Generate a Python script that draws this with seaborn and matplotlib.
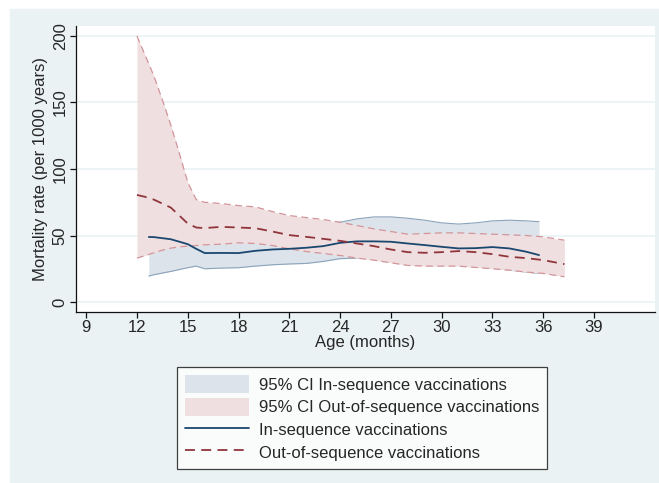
import numpy as np
import pandas as pd
import seaborn as sns
import matplotlib.pyplot as plt
from matplotlib.patches import Patch, Rectangle
from matplotlib.lines import Line2D

# In-sequence vaccinations (age in months, rate per 1000 years)
in_age = [12.7, 13, 14, 15, 15.5, 16, 17, 18, 19, 20, 21, 22, 23, 24, 25, 26,
          27, 28, 29, 30, 31, 32, 33, 34, 35, 35.75]
in_rate = [48.9, 48.8, 47.2, 43.5, 40, 36.8, 36.9, 36.8, 38.5, 39.5, 40, 40.8,
           42, 44.5, 45.6, 45.6, 45.3, 44, 42.8, 41.5, 40.3, 40.5, 41.3, 40.3,
           37.8, 35.3]
in_upper = [66, 65, 63, 61, 60, 58, 57.5, 57, 57, 57, 57, 57.5, 58.5, 60, 62.5,
            64, 64, 63, 61.5, 59.5, 58.6, 59.5, 61, 61.5, 61, 60.4]
in_lower = [19.5, 20.5, 23, 25.8, 27, 25, 25.5, 25.8, 27, 28, 28.6, 29, 30.5,
            32.6, 33, 32.5, 31.5, 30, 29, 28.5, 28, 27, 25.5, 24, 22.5, 21.5]

# Out-of-sequence vaccinations
out_age = [12, 12.5, 13, 13.5, 14, 14.5, 15, 15.5, 16, 17, 18, 19, 20, 21, 22,
           23, 24, 25, 26, 27, 28, 29, 30, 31, 32, 33, 34, 35, 36, 37.25]
out_rate = [80.5, 79, 77, 74, 71, 65, 59, 56, 55.6, 56.5, 56, 55.5, 53, 50.3,
            49, 47.5, 46, 44, 42, 39.5, 37.5, 37, 37.5, 38.3, 37.5, 36, 34, 33,
            31.5, 28.5]
out_upper = [200, 185, 170, 152, 133, 112, 90, 77, 75, 74, 72.5, 71.5, 68, 65,
             63.5, 62, 60, 57.5, 55, 53, 51, 51.5, 52, 52, 51.5, 51, 50.5, 50,
             49, 46.5]
out_lower = [33, 35, 37, 39, 40.5, 41.5, 42, 42.5, 43, 43.5, 44.5, 44, 42.5, 40,
             38, 36.5, 35, 33, 31.5, 29.5, 27.5, 27, 27, 27, 26, 25, 24, 22.5,
             21.5, 19]

x_ticks = [9, 12, 15, 18, 21, 24, 27, 30, 33, 36, 39]
y_ticks = [0, 50, 100, 150, 200]

BG = '#eaf2f3'
NAVY = '#1a476f'
MAROON = '#90353b'
NAVY_FILL = '#dce3ea'
NAVY_EDGE = '#8ba3bb'
MAROON_FILL = '#efdfe0'
MAROON_EDGE = '#d3959a'
DASH = (0, (5.5, 3.5))
FS = 12


def main() -> None:
    sns.set_style('white')
    plt.rcParams['font.family'] = ['Liberation Sans', 'DejaVu Sans']

    df_in = pd.DataFrame({'age': in_age, 'rate': in_rate,
                          'upper': in_upper, 'lower': in_lower})
    df_out = pd.DataFrame({'age': out_age, 'rate': out_rate,
                           'upper': out_upper, 'lower': out_lower})

    fig = plt.figure(figsize=(6.59, 4.83), dpi=100)
    fig.patch.set_facecolor('white')
    fig.patches.append(Rectangle((10 / 659, 0), 1, 1 - 9 / 483,
                                 transform=fig.transFigure, color=BG,
                                 zorder=-10))
    ax = fig.add_axes([76 / 659, 1 - 312 / 483, 579 / 659, 286 / 483])
    ax.set_facecolor('white')

    # confidence bands
    ax.fill_between(df_in['age'], df_in['lower'], df_in['upper'],
                    color=NAVY_FILL, lw=0, zorder=1)
    sns.lineplot(data=df_in, x='age', y='upper', ax=ax, color=NAVY_EDGE,
                 lw=0.8, estimator=None, zorder=1.5)
    sns.lineplot(data=df_in, x='age', y='lower', ax=ax, color=NAVY_EDGE,
                 lw=0.8, estimator=None, zorder=1.5)
    ax.fill_between(df_out['age'], df_out['lower'], df_out['upper'],
                    color=MAROON_FILL, lw=0, zorder=2)
    for col in ['upper', 'lower']:
        sns.lineplot(data=df_out, x='age', y=col, ax=ax, color=MAROON_EDGE,
                     lw=0.9, linestyle=DASH, estimator=None, zorder=2.5)

    # fitted rates
    sns.lineplot(data=df_in, x='age', y='rate', ax=ax, color=NAVY, lw=1.3,
                 estimator=None, zorder=3)
    sns.lineplot(data=df_out, x='age', y='rate', ax=ax, color=MAROON, lw=1.3,
                 linestyle=DASH, estimator=None, zorder=3)

    ax.set_xlim(8.4, 42.6)
    ax.set_ylim(-7.5, 207.5)
    ax.set_xticks(x_ticks)
    ax.set_yticks(y_ticks)
    ax.set_yticklabels([str(v) for v in y_ticks], rotation=90, va='center')
    ax.grid(axis='y', color=BG, lw=1.2)
    ax.grid(axis='x', visible=False)
    for side in ['top', 'right']:
        ax.spines[side].set_visible(False)
    for side in ['left', 'bottom']:
        ax.spines[side].set_color('#111111')
        ax.spines[side].set_linewidth(0.9)
    ax.tick_params(axis='both', direction='out', length=4, width=0.9,
                   color='#111111', labelsize=FS, pad=2,
                   left=True, bottom=True)
    ax.set_xlabel('Age (months)', fontsize=FS, labelpad=0)
    ax.set_ylabel('Mortality rate (per 1000 years)', fontsize=FS,
                  labelpad=3)

    handles = [
        Patch(facecolor=NAVY_FILL, edgecolor='none'),
        Patch(facecolor=MAROON_FILL, edgecolor='none'),
        Line2D([], [], color=NAVY, lw=1.3),
        Line2D([], [], color=MAROON, lw=1.3, linestyle=DASH),
    ]
    labels = ['95% CI In-sequence vaccinations',
              '95% CI Out-of-sequence vaccinations',
              'In-sequence vaccinations',
              'Out-of-sequence vaccinations']
    leg = fig.legend(handles, labels, loc='upper left',
                     bbox_to_anchor=(177 / 659, 1 - 367 / 483),
                     fontsize=FS, frameon=True, fancybox=False,
                     handlelength=3.8, handleheight=1.25, handletextpad=0.6,
                     labelspacing=0.3, borderpad=0.5, borderaxespad=0)
    leg.get_frame().set_edgecolor('#111111')
    leg.get_frame().set_linewidth(0.9)
    leg.get_frame().set_facecolor('white')

    fig.savefig('out.png', dpi=100)


if __name__ == '__main__':
    main()
